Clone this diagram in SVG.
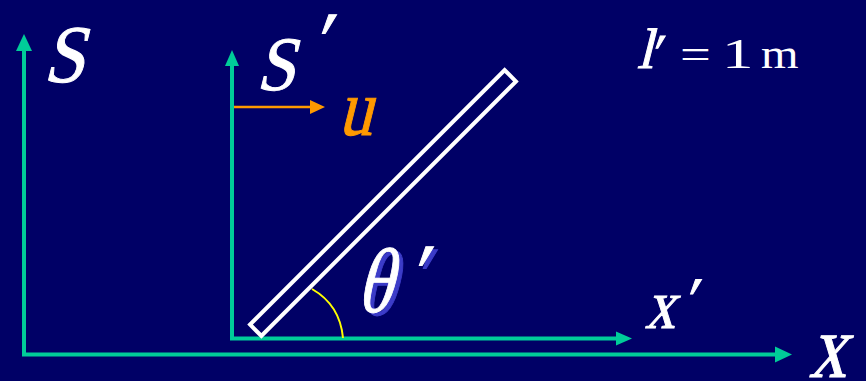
<svg xmlns="http://www.w3.org/2000/svg" width="866" height="381" viewBox="0 0 866 381">
  <style>
    .ax { stroke: #00cc99; stroke-width: 4; fill: none; }
    .lbl { font-family: "Liberation Serif", "Times New Roman", serif; fill: #ffffff; stroke: #ffffff; stroke-width: 1; }
    .up { font-family: "Liberation Serif", "Times New Roman", serif; fill: #ffffff; }
    .sh { fill: #3c3cc8; stroke: #3c3cc8; }
    .or { fill: #ff9900; stroke: #ff9900; }
  </style>
  <defs>
    <marker id="ga" markerUnits="userSpaceOnUse" markerWidth="18" markerHeight="16" refX="0" refY="8" orient="auto" overflow="visible">
      <path d="M0,0 L17,8 L0,16 Z" fill="#00cc99"/>
    </marker>
    <marker id="gs" markerUnits="userSpaceOnUse" markerWidth="18" markerHeight="14" refX="0" refY="7" orient="auto" overflow="visible">
      <path d="M0,0 L16,7 L0,14 Z" fill="#00cc99"/>
    </marker>
    <marker id="oa" markerUnits="userSpaceOnUse" markerWidth="16" markerHeight="14" refX="0" refY="7" orient="auto" overflow="visible">
      <path d="M0,0 L15,7 L0,14 Z" fill="#ff9900"/>
    </marker>
  </defs>
  <rect width="866" height="381" fill="#000066"/>

  <g id="connectors">
    <path class="ax" d="M24,354.5 V51" marker-end="url(#ga)"/>
    <path class="ax" d="M22,354.5 H775" marker-end="url(#ga)"/>
    <path class="ax" d="M232,338.5 V66" marker-end="url(#gs)"/>
    <path class="ax" d="M230,338.5 H616" marker-end="url(#gs)"/>
    <path d="M234,107 H310" stroke="#ff9900" stroke-width="2.5" fill="none" marker-end="url(#oa)"/>
  </g>

  <g id="frame-S">
    <text class="lbl" font-size="82" transform="translate(43,82) skewX(-14) scale(0.9,1)">S</text>
  </g>
  <g id="frame-S-prime">
    <text class="lbl" font-size="77" transform="translate(256,90) skewX(-14) scale(0.9,1)">S</text>
    <text class="lbl" font-size="80" transform="translate(310,67) skewX(-14)">′</text>
  </g>
  <g id="velocity-u">
    <text class="lbl or" font-size="80" transform="translate(338,135) skewX(-14) scale(0.85,1)">u</text>
  </g>
  <g id="rod">
    <rect x="-180" y="-8" width="360" height="16" fill="none" stroke="#ffffff" stroke-width="4" transform="translate(383,203) rotate(-45)"/>
  </g>
  <g id="angle">
    <path d="M312,289 Q340,305 343,338" stroke="#ffff00" stroke-width="2" fill="none"/>
    <text class="lbl sh" font-size="92" transform="translate(360,315) skewX(-14) scale(0.8,1)">θ</text>
    <text class="lbl sh" font-size="80" transform="translate(411,302) skewX(-14)">′</text>
    <text class="lbl" font-size="92" transform="translate(356,312) skewX(-14) scale(0.8,1)">θ</text>
    <text class="lbl" font-size="80" transform="translate(407,299) skewX(-14)">′</text>
  </g>
  <g id="label-x-prime">
    <text class="lbl" font-size="70" transform="translate(645,328) skewX(-14) scale(0.85,1)">x</text>
    <text class="lbl" font-size="62" transform="translate(681,320) skewX(-14)">′</text>
  </g>
  <g id="label-x">
    <text class="lbl" font-size="90" transform="translate(809,377) skewX(-14) scale(0.82,1)">x</text>
  </g>
  <g id="length">
    <text class="lbl" font-size="57" transform="translate(637,68) skewX(-14)">l</text>
    <text class="lbl" font-size="52" transform="translate(648,70) skewX(-14)">′</text>
    <text class="up" x="680" y="68" font-size="42" transform="translate(680,0) scale(1.3,1) translate(-680,0)">=</text>
    <text class="up" x="722" y="68" font-size="42" transform="translate(722,0) scale(1.5,1) translate(-722,0)">1</text>
    <text class="up" x="761" y="68" font-size="42" transform="translate(761,0) scale(1.15,1) translate(-761,0)">m</text>
  </g>
</svg>
